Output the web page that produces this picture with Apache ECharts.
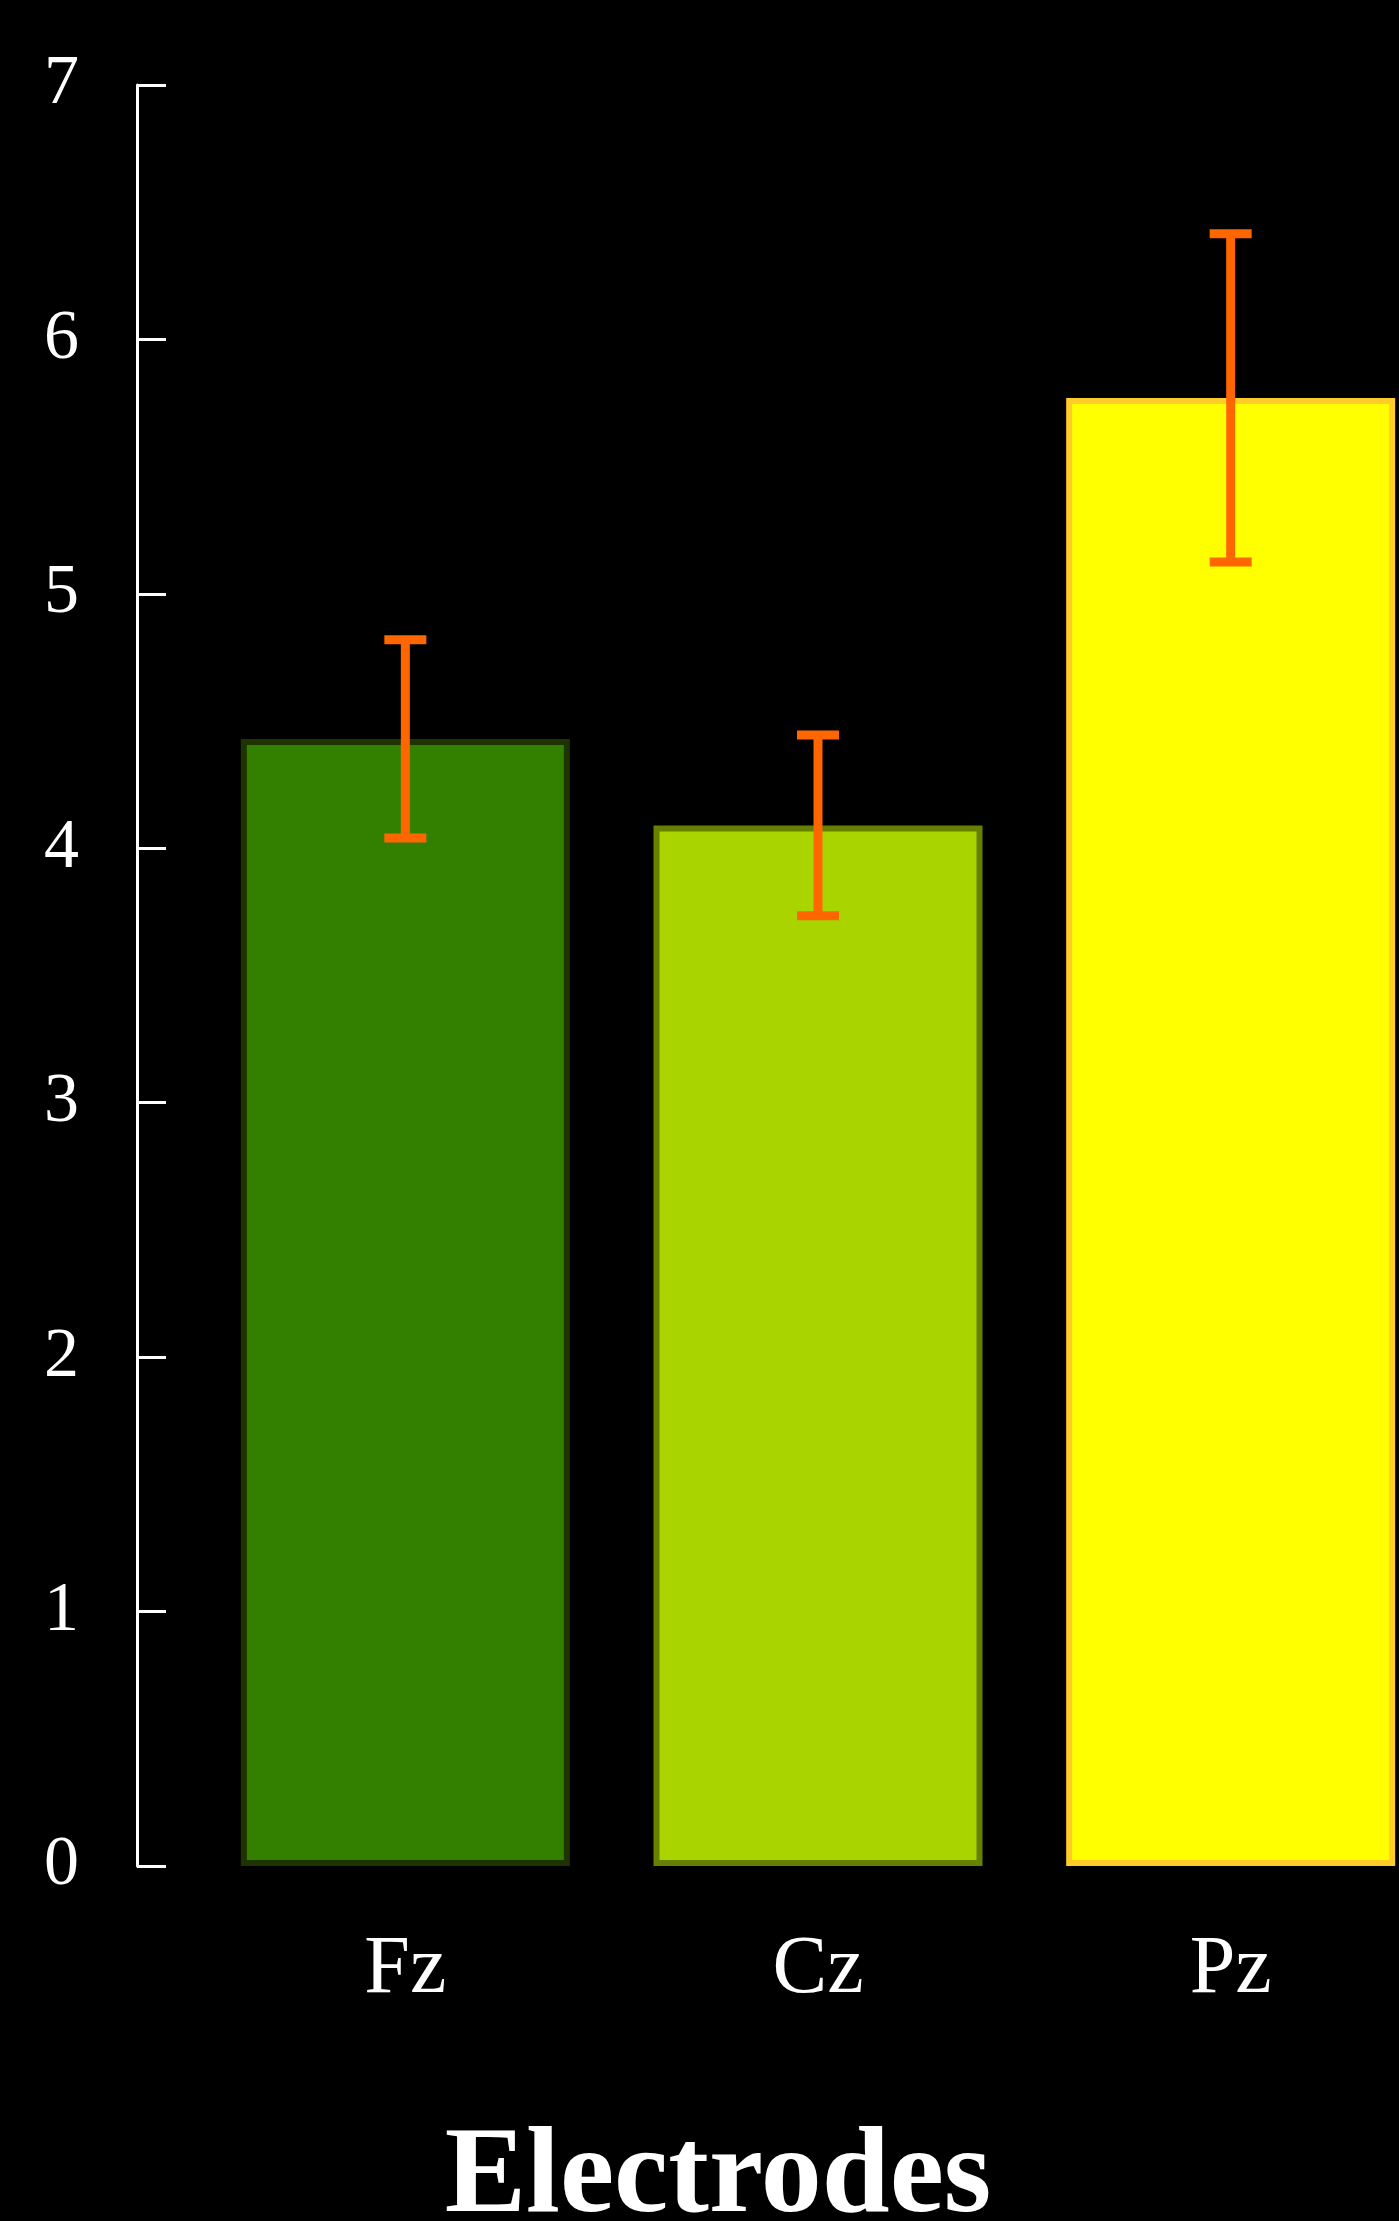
<!DOCTYPE html>
<html>
<head>
<meta charset="utf-8">
<script src="https://cdn.jsdelivr.net/npm/echarts@6/dist/echarts.min.js"></script>
<style>
  html, body { margin: 0; padding: 0; background: #000; }
  #chart { width: 1399px; height: 2221px; }
</style>
</head>
<body>
<div id="chart"></div>
<script>
// Mean amplitude per electrode with error (± half range)
const electrodes = ['Fz', 'Cz', 'Pz'];
const means = [4.43, 4.09, 5.77];
const errors = [0.39, 0.355, 0.645];
const fillColors = ['#338000', '#aad400', '#ffff00'];
const borderColors = ['#1f3300', '#668000', '#ffcc2a'];
const yTicks = [0, 1, 2, 3, 4, 5, 6, 7];
const axisTitle = 'Electrodes';

const serif = '"Liberation Serif", "DejaVu Serif", serif';

const chart = echarts.init(document.getElementById('chart'), null, { renderer: 'canvas' });

const errorData = electrodes.map((name, i) => [i, means[i] - errors[i], means[i] + errors[i]]);

chart.setOption({
  backgroundColor: '#000000',
  animation: false,
  grid: { left: 199, top: 85, width: 1238, height: 1781, containLabel: false, outerBoundsMode: 'none' },
  title: {
    text: axisTitle,
    left: 718,
    top: 2118,
    textAlign: 'center',
    padding: 0,
    textStyle: {
      color: '#ffffff',
      fontFamily: serif,
      fontWeight: 'bold',
      fontSize: 122,
      lineHeight: 122
    }
  },
  xAxis: {
    type: 'category',
    data: electrodes,
    axisLine: { show: false },
    axisTick: { show: false },
    axisLabel: {
      color: '#ffffff',
      fontFamily: serif,
      fontSize: 82,
      lineHeight: 82,
      margin: 63
    }
  },
  yAxis: {
    type: 'value',
    min: yTicks[0],
    max: yTicks[yTicks.length - 1],
    interval: 1,
    offset: 62,
    splitLine: { show: false },
    axisLine: { show: true, lineStyle: { color: '#ffffff', width: 3 } },
    axisTick: { show: true, inside: true, length: 29, lineStyle: { color: '#ffffff', width: 3 } },
    axisLabel: {
      color: '#ffffff',
      fontFamily: serif,
      fontSize: 70,
      margin: 58
    }
  },
  series: [
    {
      type: 'bar',
      barWidth: 329,
      data: means.map((v, i) => ({
        value: v,
        itemStyle: { color: fillColors[i], borderColor: borderColors[i], borderWidth: 6 }
      })),
      z: 2
    },
    {
      type: 'custom',
      z: 5,
      data: errorData,
      renderItem: function (params, api) {
        const x = api.value(0);
        const lo = api.coord([x, api.value(1)]);
        const hi = api.coord([x, api.value(2)]);
        const capHalf = 21;
        const style = { stroke: '#ff6600', lineWidth: 9, lineCap: 'butt' };
        return {
          type: 'group',
          children: [
            { type: 'line', shape: { x1: hi[0], y1: hi[1], x2: lo[0], y2: lo[1] }, style: style },
            { type: 'line', shape: { x1: hi[0] - capHalf, y1: hi[1], x2: hi[0] + capHalf, y2: hi[1] }, style: style },
            { type: 'line', shape: { x1: lo[0] - capHalf, y1: lo[1], x2: lo[0] + capHalf, y2: lo[1] }, style: style }
          ]
        };
      }
    }
  ]
});
</script>
</body>
</html>
